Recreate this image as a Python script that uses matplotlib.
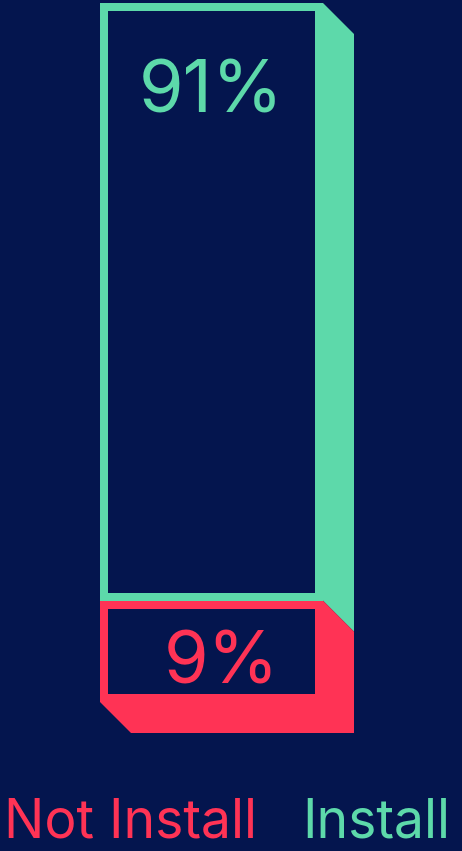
import matplotlib
matplotlib.use('Agg')
import matplotlib.pyplot as plt
from matplotlib.patches import Polygon

# data
categories = ['Install', 'Not Install']
shares = [91, 9]
colors = ['#5DD9AA', '#FF3355']
bg = '#04154E'

# the small segment gets a minimum visual height so its label fits
min_share = 14.5
shown_bottom = max(shares[1], min_share)
heights = [100 - shown_bottom, shown_bottom]   # top segment, bottom segment
bottoms = [shown_bottom, 0]

W, H = 462, 851
fig = plt.figure(figsize=(W / 100, H / 100), dpi=100, facecolor=bg)
ax = fig.add_axes([0, 0, 1, 1])
ax.set_facecolor(bg)
ax.axis('off')

# axis limits: bar x=0 (width 1) spans px 100..323, y 0..100 spans px 702..3
ppx = 223.0
ppy = 699 / 100.0
ax.set_xlim(-211.5 / ppx, (W - 211.5) / ppx)
ax.set_ylim(-149 / ppy, (H - 149) / ppy)

border_x = 8.5 / ppx
border_y = 8 / ppy
dx = 31 / ppx
dy = 31 / ppy

for i in range(2):
    h, b, c = heights[i], bottoms[i], colors[i]
    # front face: coloured frame with dark inside
    ax.bar(0, h, bottom=b, width=1, color=c, zorder=2)
    ax.bar(0, h - 2 * border_y, bottom=b + border_y, width=1 - 2 * border_x,
           color=bg, zorder=3)
    # side (and bottom face for the lowest segment)
    top = b + h
    if b == 0:
        pts = [(0.5, top), (0.5 + dx, top - dy), (0.5 + dx, -dy),
               (-0.5 + dx, -dy), (-0.5, 0), (0.5, 0)]
    else:
        pts = [(0.5, top), (0.5 + dx, top - dy), (0.5 + dx, b - dy), (0.5, b)]
    ax.add_patch(Polygon(pts, closed=True, color=c, lw=0, zorder=1))

# value labels
fs = 52
ax.text(0, 100 - 15.6, '%d%%' % shares[0], color=colors[0], fontsize=fs,
        family='Inter', ha='center', va='baseline', zorder=4)
ax.text(0.045, 2.7, '%d%%' % shares[1], color=colors[1], fontsize=fs,
        family='Inter', ha='center', va='baseline', zorder=4)

# category labels under the bar
fig.text(131 / W, 14 / H, categories[1], color=colors[1], fontsize=38.5,
         family='Inter', ha='center', va='baseline')
fig.text(376.5 / W, 14 / H, categories[0], color=colors[0], fontsize=38.5,
         family='Inter', ha='center', va='baseline')

fig.savefig('out.png', dpi=100, facecolor=bg)
